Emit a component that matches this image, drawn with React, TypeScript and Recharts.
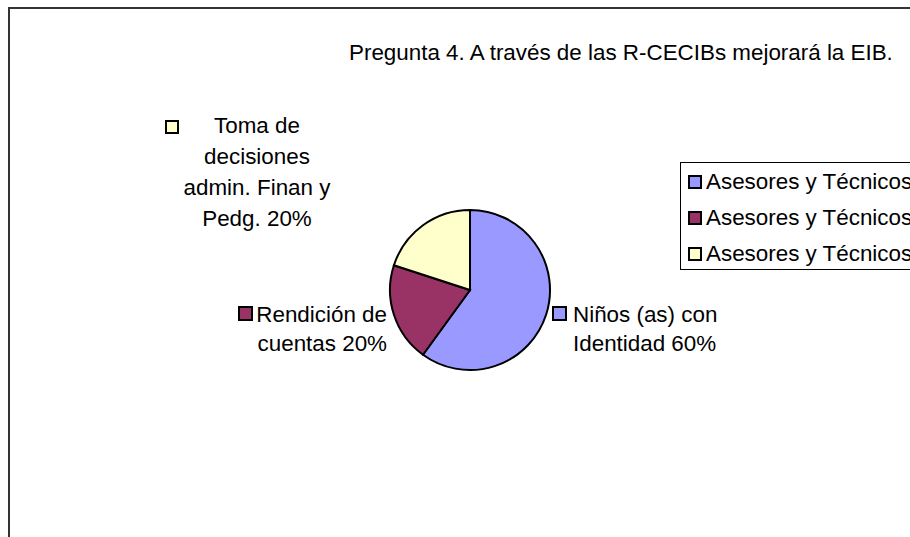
import React from 'react';
import { PieChart, Pie, Cell, Legend, Customized } from 'recharts';

const categories = ['Niños (as) con Identidad', 'Rendición de cuentas', 'Toma de decisiones admin. Finan y Pedg.'];
const values = [60, 20, 20];
const labelLines = [
  ['Niños (as) con', 'Identidad'],
  ['Rendición de', 'cuentas'],
  ['Toma de', 'decisiones', 'admin. Finan y', 'Pedg.'],
];
const legendNames = ['Asesores y Técnicos', 'Asesores y Técnicos', 'Asesores y Técnicos'];
const colors = ['#9999FF', '#993366', '#FFFFCC'];
const title = 'Pregunta 4. A través de las R-CECIBs mejorará la EIB.';

const data = categories.map((name, i) => ({ name, value: values[i] }));

const FONT = '"Liberation Sans", Arial, sans-serif';
const FS = 22.4;

// label layout offsets relative to the pie centre
const labelLayout = [
  { keyDx: 83, keyDy: 17, key: 13, tx: 103, anchor: 'start', lineDy: [24, 53] },
  { keyDx: -231, keyDy: 17, key: 13, tx: -83, anchor: 'end', lineDy: [24, 53] },
  { keyDx: -304, keyDy: -169, key: 12, tx: -213, anchor: 'middle', lineDy: [-165, -134, -103, -72] },
];

const renderLabel = (props: any) => {
  const { cx, cy, index, percent } = props;
  const lay = labelLayout[index];
  const lines = labelLines[index].slice();
  lines[lines.length - 1] = `${lines[lines.length - 1]} ${Math.round(percent * 100)}%`;
  return (
    <g key={`lbl-${index}`}>
      <rect x={cx + lay.keyDx} y={cy + lay.keyDy} width={lay.key} height={lay.key} fill={colors[index]} stroke="#000" strokeWidth={2} />
      {lines.map((l, j) => (
        <text key={j} x={cx + lay.tx} y={cy + lay.lineDy[j]} textAnchor={lay.anchor as any} dominantBaseline="central" fontSize={FS} fontFamily={FONT} fill="#000">
          {l}
        </text>
      ))}
    </g>
  );
};

const LegendBox = () => (
  <div style={{ border: '1px solid #000', background: '#fff', width: 260, height: 108, paddingTop: 1, boxSizing: 'border-box' }}>
    {legendNames.map((n, i) => (
      <div key={i} style={{ display: 'flex', alignItems: 'center', height: 36, paddingLeft: 7, fontFamily: FONT, fontSize: FS, color: '#000', whiteSpace: 'nowrap' }}>
        <span style={{ display: 'inline-block', width: 10, height: 10, border: '2px solid #000', background: colors[i], marginRight: 4 }} />
        {n}
      </div>
    ))}
  </div>
);

const Title = () => (
  <text x={349} y={52} dominantBaseline="central" fontSize={FS} fontFamily={FONT} fill="#000">
    {title}
  </text>
);

export default function App() {
  return (
    <div style={{ position: 'fixed', left: 0, top: 0, width: 910, height: 537, overflow: 'hidden', background: '#fff' }}>
      <div style={{ position: 'absolute', left: 8, top: 7, width: 1000, height: 600, borderTop: '2px solid #333', borderLeft: '2px solid #333' }} />
      <div style={{ position: 'absolute', left: 0, top: 0 }}>
        <PieChart width={910} height={537} margin={{ top: 0, right: 0, bottom: 0, left: 0 }} style={{ fontFamily: FONT }}>
          <Customized component={Title} />
          <Pie
            data={data}
            dataKey="value"
            nameKey="name"
            cx={470}
            cy={290}
            outerRadius={80}
            startAngle={90}
            endAngle={-270}
            stroke="#000"
            strokeWidth={2}
            label={renderLabel}
            labelLine={false}
            isAnimationActive={false}
          >
            {data.map((d, i) => (
              <Cell key={i} fill={colors[i]} />
            ))}
          </Pie>
          <Legend content={<LegendBox />} wrapperStyle={{ position: 'absolute', left: 680, top: 162, width: 260 }} />
        </PieChart>
      </div>
    </div>
  );
}
